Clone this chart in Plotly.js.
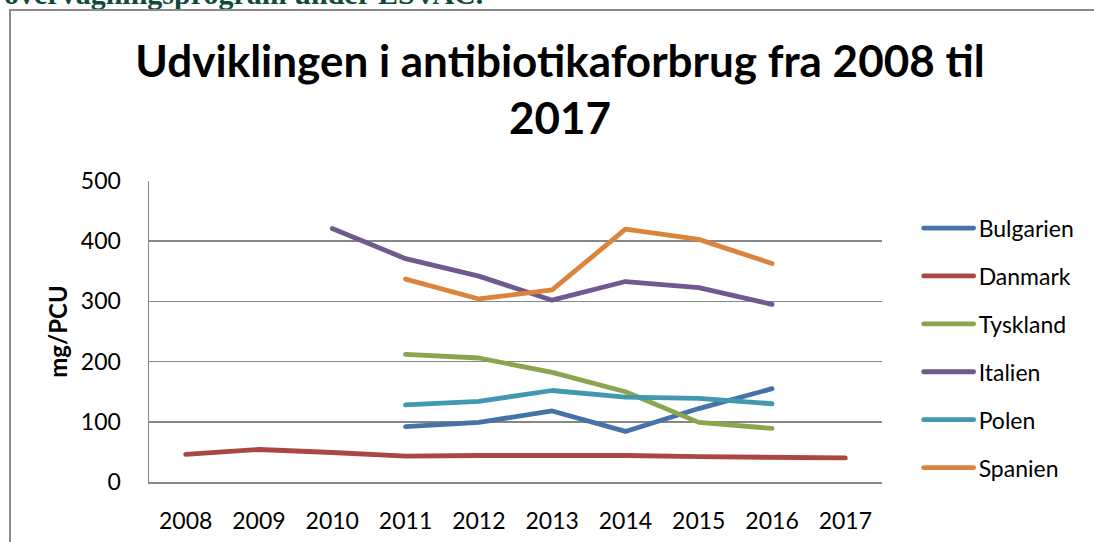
<!DOCTYPE html>
<html>
<head>
<meta charset="utf-8">
<script src="https://cdn.plot.ly/plotly-3.0.1.min.js"></script>
<style>
  html, body { margin: 0; padding: 0; background: #fff; overflow: hidden; }
  #wrap { position: relative; width: 1094px; height: 542px; }
  #frame { position: absolute; left: 9px; top: 9px; width: 1200px; height: 700px;
           border-left: 2px solid #8c8c8c; border-top: 2px solid #8c8c8c; pointer-events: none; }
  #chart { position: absolute; left: 0; top: 0; width: 1094px; height: 542px; }
  .scatterlayer .js-line, .legendlines path { stroke-linecap: round; stroke-linejoin: round; }
</style>
</head>
<body>
<div id="wrap">
  <div id="chart"></div>
  <div id="frame"></div>
</div>
<script>
const years = ['2008','2009','2010','2011','2012','2013','2014','2015','2016','2017'];
const bulgarien = [null, null, null, 92, 99, 118, 84, 122, 155, null];
const danmark   = [46, 54, 49, 43, 44, 44, 44, 42, 41, 40];
const tyskland  = [null, null, null, 212, 206, 182, 150, 99, 89, null];
const italien   = [null, null, 421, 371, 342, 302, 333, 323, 295, null];
const polen     = [null, null, null, 128, 134, 152, 141, 139, 130, null];
const spanien   = [null, null, null, 337, 304, 319, 420, 403, 363, null];

const seriesNames  = ['Bulgarien','Danmark','Tyskland','Italien','Polen','Spanien'];
const seriesValues = [bulgarien, danmark, tyskland, italien, polen, spanien];
const seriesColors = ['#4572A7','#AA4643','#89A54E','#71588F','#4198AF','#DB843D'];

const yTicks = [0, 100, 200, 300, 400, 500];

const traces = seriesNames.map((name, i) => ({
  type: 'scatter', mode: 'lines', name: name,
  x: years, y: seriesValues[i],
  legendgroup: 'g' + i,
  line: { color: seriesColors[i], width: 4.8 },
  connectgaps: false, hoverinfo: 'skip'
}));

const layout = {
  width: 1094, height: 542,
  margin: { l: 149, r: 212, t: 181, b: 60, autoexpand: false },
  paper_bgcolor: '#ffffff', plot_bgcolor: '#ffffff',
  font: { family: 'Lato, sans-serif', color: '#000' },
  title: {
    text: '<b>Udviklingen i antibiotikaforbrug fra 2008 til<br>2017</b>',
    font: { family: 'Lato, sans-serif', size: 44, color: '#000' },
    xref: 'container', x: 560 / 1094, xanchor: 'center',
    yref: 'container', y: 1 - 77 / 542, yanchor: 'top'
  },
  xaxis: {
    type: 'category', tickvals: years, ticktext: years,
    range: [-0.5, years.length - 0.5],
    showgrid: false, zeroline: false,
    showline: true, linecolor: '#868686', linewidth: 1.5,
    ticks: '', ticklabelstandoff: 18,
    tickfont: { family: 'Lato, sans-serif', size: 23, color: '#000' },
    fixedrange: true
  },
  yaxis: {
    range: [0, 500], tickvals: yTicks, ticktext: yTicks.map(String),
    showgrid: true, gridcolor: '#868686', gridwidth: 1.5,
    zeroline: false, showline: true, linecolor: '#868686', linewidth: 1.5,
    ticks: '', ticklabelstandoff: 22,
    tickfont: { family: 'Lato, sans-serif', size: 23, color: '#000' },
    title: { text: '<b>mg/PCU</b>', standoff: 6,
             font: { family: 'Lato, sans-serif', size: 24, color: '#000' } },
    automargin: false, fixedrange: true
  },
  showlegend: true,
  legend: {
    x: 1.05, xanchor: 'left', y: 0.915, yanchor: 'top',
    itemwidth: 50,
    font: { family: 'Lato, sans-serif', size: 23, color: '#000' },
    tracegroupgap: 15, bgcolor: 'rgba(0,0,0,0)', borderwidth: 0
  },
  annotations: [{
    text: '<b>overvågningsprogram under ESVAC.</b>',
    xref: 'paper', yref: 'paper',
    x: -147 / 733, xanchor: 'left',
    y: (482 - 5) / 301, yanchor: 'bottom',
    yshift: -7,
    showarrow: false,
    font: { family: 'Liberation Serif, serif', size: 30, color: '#0E4B3B' }
  }]
};

Plotly.newPlot('chart', traces, layout, { staticPlot: true, displayModeBar: false });
</script>
</body>
</html>
